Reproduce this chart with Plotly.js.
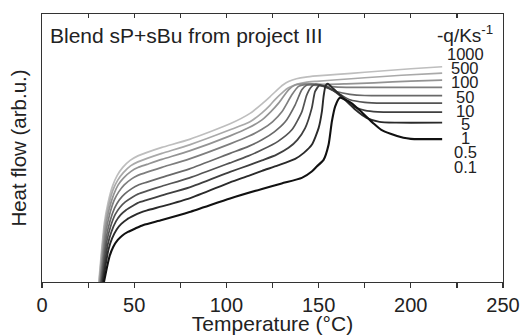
<!DOCTYPE html>
<html>
<head>
<meta charset="utf-8">
<script src="https://cdn.plot.ly/plotly-3.0.1.min.js"></script>
<style>html,body{margin:0;padding:0;background:#fff;}#chart{width:523px;height:335px;}</style>
</head>
<body>
<div id="chart"></div>
<script>
// Cooling rates (-q / K s^-1), lightest (top) to darkest (bottom)
var rateLabels = ["1000", "500", "100", "50", "10", "5", "1", "0.5", "0.1"];

// Temperature (°C) and heat flow (arb.u.)
var temp_q1000 = [30.8, 32.3, 33.8, 35.8, 38.3, 40.8, 43.8, 47.8, 52, 57, 65, 80, 102, 112.8, 119.3, 123.6, 127, 130.8, 134, 138, 143, 149, 160, 175, 200, 217];
var hf_q1000   = [0, 31, 58.5, 79, 96, 106.5, 114.5, 121.5, 126, 129.5, 134.5, 142.5, 158, 168.4, 178, 185, 191, 197, 200.5, 203, 204.7, 205.8, 207.3, 209.5, 213, 215];

var temp_q500 = [31.0, 32.5, 34.0, 36.0, 38.5, 41.0, 44.0, 48.0, 52, 57, 65, 80, 102, 112.8, 119.3, 123.6, 126.5, 130.8, 133.7, 138, 143, 149, 160, 175, 195, 217];
var hf_q500   = [0, 30, 56, 75.5, 92, 101.5, 109, 116, 120, 123.5, 128.5, 137, 152, 160, 169, 176.5, 182.5, 190, 194, 197.5, 199.5, 200.5, 202, 204, 206.5, 208.7];

var temp_q100 = [31.3, 32.8, 34.3, 36.3, 38.8, 41.3, 44.3, 48.3, 52, 57, 65, 80, 102, 112, 119.3, 124, 128.3, 133.7, 137.3, 141, 147, 155, 165, 180, 200, 217];
var hf_q100   = [0, 28, 53, 72, 87, 97, 104, 110.5, 114.3, 117.5, 122.5, 131, 146, 154, 162, 170, 178.7, 192, 196.7, 198, 198, 197.5, 198, 199, 200.7, 201.7];

var temp_q50 = [31.6, 33.1, 34.6, 36.6, 39.1, 41.6, 44.6, 48.6, 52, 57, 65, 80, 102, 112, 119.3, 125, 130.1, 135.5, 139.1, 142.5, 146, 155, 165, 185, 217];
var hf_q50   = [0, 26.5, 49.5, 67, 81.5, 90, 97, 103, 106.5, 109.8, 114.5, 123, 138, 145.5, 152.5, 160, 170, 187, 195.4, 197.2, 197, 195.5, 194.5, 194.4, 194.4];

var temp_q10 = [31.9, 33.4, 34.9, 36.9, 39.4, 41.9, 44.9, 48.9, 52, 57, 65, 80, 102, 112, 119.3, 126, 131.9, 137.3, 140.9, 143.6, 146, 149, 153, 160, 167, 175, 217];
var hf_q10   = [0, 24, 45, 61, 74, 82, 88, 93.5, 96.7, 99.8, 104.5, 113, 128.5, 135.5, 142, 150, 160, 177, 192, 196.7, 197.5, 197, 195, 190, 187.5, 186.3, 186.2];

var temp_q5 = [32.2, 33.7, 35.2, 37.2, 39.7, 42.2, 45.2, 49.2, 52, 57, 65, 80, 102, 112, 119.3, 128, 135.5, 140.9, 143.6, 146.3, 148.5, 151, 155, 162, 167, 175, 185, 217];
var hf_q5   = [0, 22, 41, 55.5, 67.5, 74.5, 80, 85, 87.8, 91, 95.7, 104, 119, 126, 132, 140.5, 152, 170, 187, 195.4, 197.5, 196.5, 194, 187, 182, 179.5, 178.7, 178.7];

var temp_q1 = [32.6, 34.1, 35.6, 37.6, 40.1, 42.6, 45.6, 49.6, 52, 57, 65, 80, 102, 112, 119.3, 127, 133.7, 138.5, 142.7, 146.3, 148.1, 150.5, 152.5, 157, 163, 168, 175, 182, 200, 217];
var hf_q1   = [0, 19.5, 37, 50, 60.5, 67, 72, 76.5, 79, 82, 86.5, 94.5, 110, 116.5, 121.5, 127, 134, 142, 153.7, 173.7, 190.4, 196.5, 196, 192.5, 184, 176, 171.5, 170, 169.7, 169.7];

var temp_q05 = [33.0, 34.5, 36.0, 38.0, 40.5, 43.0, 46.0, 50.0, 53, 57, 65, 80, 102, 112, 119.3, 128, 137.3, 142, 146.3, 150, 151.8, 152.7, 153.8, 155, 158, 164, 170, 176, 183, 192, 217];
var hf_q05   = [0, 17, 32, 43.5, 52.5, 58, 62.5, 66.5, 69, 71.5, 75.5, 83.5, 99.5, 106, 111, 116.5, 123, 129, 137, 153.7, 170.4, 185.4, 196, 198, 193, 183, 172, 164, 160, 159.2, 159.2];

var temp_q01 = [33.6, 35.1, 36.6, 38.6, 41.1, 43.6, 46.6, 50.6, 55, 65, 80, 102, 119.3, 130, 140.9, 146.3, 149, 152.7, 155.4, 157.2, 159, 161.5, 164, 168, 172, 176, 180, 184, 189, 196, 200, 217];
var hf_q01   = [0, 13.5, 25.5, 35, 42, 46.5, 50, 53.5, 57, 62, 70, 83.5, 93, 98.5, 104, 110.4, 115.4, 122, 137, 160.4, 175.4, 184, 182.5, 178.5, 172, 165, 158, 152, 148, 144, 143, 142.7];

var xMajorTicks = [0, 50, 100, 150, 200, 250];
var xTickText = ["0", "50", "100", "150", "200", "250"];

var temps = [temp_q1000, temp_q500, temp_q100, temp_q50, temp_q10, temp_q5, temp_q1, temp_q05, temp_q01];
var flows = [hf_q1000, hf_q500, hf_q100, hf_q50, hf_q10, hf_q5, hf_q1, hf_q05, hf_q01];
var colors = ["#bebebe", "#a9a9a9", "#939393", "#7e7e7e", "#696969", "#545454", "#3f3f3f", "#2a2a2a", "#111111"];
var widths = [1.7, 1.7, 1.7, 1.7, 1.7, 1.7, 1.8, 1.9, 2.1];

var FONT = "Liberation Sans, Arial, Helvetica, sans-serif";
var traces = [];
for (var i = 0; i < temps.length; i++) {
  traces.push({
    type: "scatter", mode: "lines", name: rateLabels[i],
    x: temps[i], y: flows[i],
    line: {color: colors[i], width: widths[i], shape: "spline", smoothing: 0.6},
    hoverinfo: "skip", showlegend: false
  });
}
// carrier for the top (mirrored, inward) tick axis
traces.push({type: "scatter", mode: "lines", x: [], y: [], xaxis: "x2", showlegend: false, hoverinfo: "skip"});

var annotations = [{
  text: "Blend sP+sBu from project III", xref: "paper", yref: "paper",
  x: 0.014, y: 0.921, xanchor: "left", yanchor: "middle", showarrow: false,
  font: {family: FONT, size: 21, color: "#222"}
}, {
  text: "-q/Ks<sup>-1</sup>", xref: "paper", yref: "paper",
  x: 0.982, y: 0.925, xanchor: "right", yanchor: "middle", showarrow: false,
  font: {family: FONT, size: 19, color: "#222"}
}];
var labelPy = [53, 67, 81, 95.5, 109.7, 123, 137, 150.8, 166];
for (var k = 0; k < rateLabels.length; k++) {
  annotations.push({
    text: rateLabels[k], xref: "paper", yref: "paper",
    x: (465 - 42) / 461, y: (281.7 - labelPy[k]) / 267.7 - 0.004,
    xanchor: "center", yanchor: "middle", showarrow: false, borderpad: 0,
    font: {family: FONT, size: 16.5, color: "#222"}
  });
}

var layout = {
  width: 523, height: 335,
  margin: {l: 42, r: 20, t: 14, b: 53},
  paper_bgcolor: "#fff", plot_bgcolor: "#fff",
  font: {family: FONT, color: "#222"},
  xaxis: {
    range: [0, 250], tickvals: xMajorTicks, ticktext: xTickText,
    ticks: "outside", ticklen: 5, tickwidth: 1.2, tickcolor: "#333",
    minor: {dtick: 25, tick0: 0, ticks: "outside", ticklen: 5, tickwidth: 1.2, tickcolor: "#333", showgrid: false},
    showline: true, mirror: true, linecolor: "#333", linewidth: 1.3,
    showgrid: false, zeroline: false,
    tickfont: {family: FONT, size: 20, color: "#222"},
    title: {text: "Temperature (°C)", font: {family: FONT, size: 21, color: "#222"}, standoff: 0}
  },
  xaxis2: {
    range: [0, 250], overlaying: "x", anchor: "y", side: "top",
    dtick: 25, tick0: 0, showticklabels: false,
    ticks: "inside", ticklen: 4, tickwidth: 1.2, tickcolor: "#333",
    showline: false, showgrid: false, zeroline: false
  },
  yaxis: {
    range: [0, 267.7], showticklabels: false, ticks: "",
    showline: true, mirror: true, linecolor: "#333", linewidth: 1.3,
    showgrid: false, zeroline: false,
    title: {text: "Heat flow (arb.u.)", font: {family: FONT, size: 20.5, color: "#222"}, standoff: 8}
  },
  annotations: annotations,
  showlegend: false
};

Plotly.newPlot("chart", traces, layout, {staticPlot: true, displayModeBar: false});
</script>
</body>
</html>
